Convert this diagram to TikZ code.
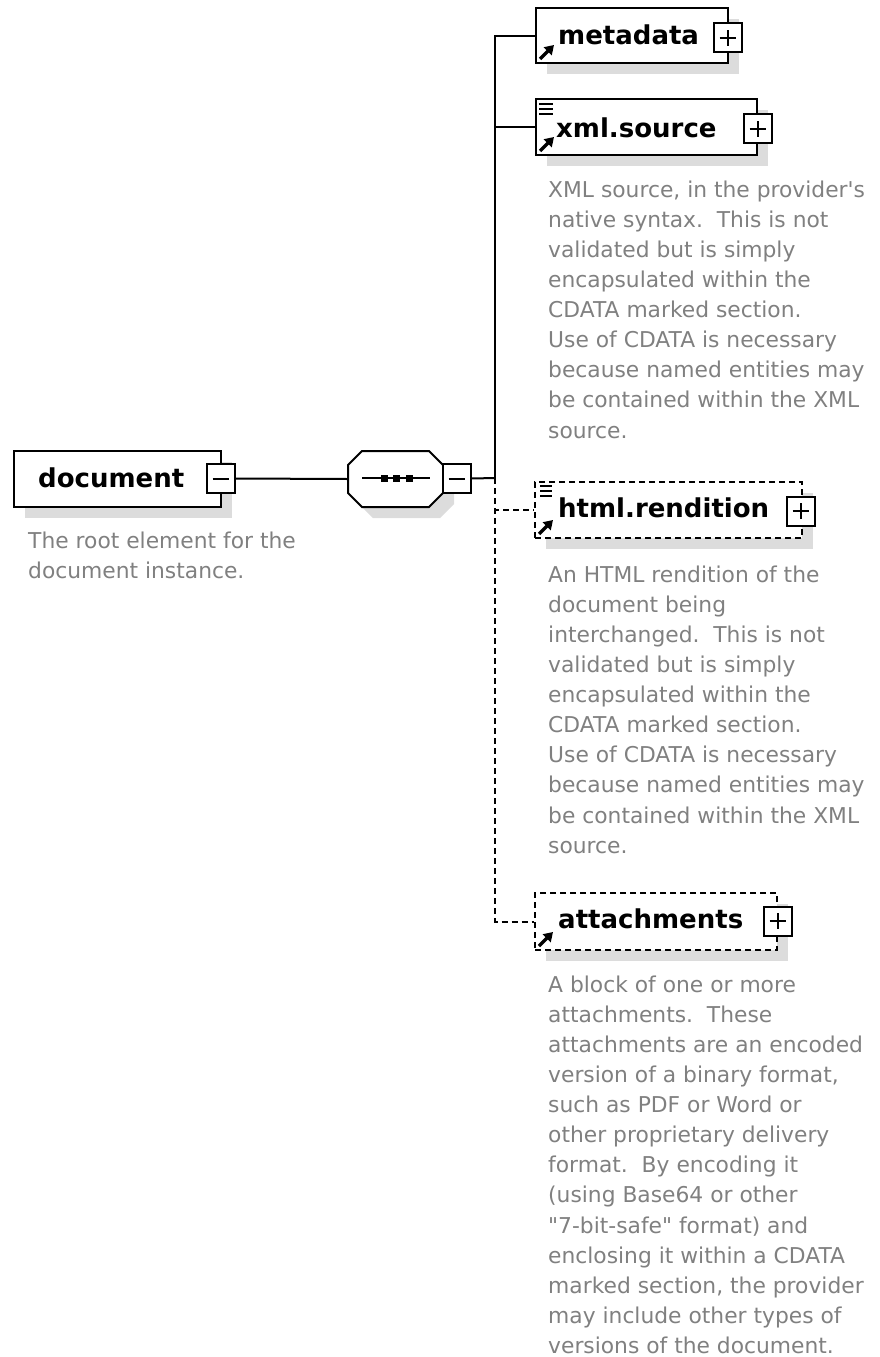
\documentclass[tikz,border=0pt]{standalone}
\usepackage{fontspec}
\setmainfont{DejaVu Sans}[Ligatures=TeXOff]
\usetikzlibrary{shadows,arrows.meta}
\definecolor{desccol}{HTML}{808080}
\definecolor{shadcol}{HTML}{DCDCDC}
\begin{document}
\begin{tikzpicture}[x=1pt,y=-1pt,
  shad/.style={drop shadow={shadow xshift=11pt,shadow yshift=-11pt,fill=shadcol,opacity=1}},
  elbox/.style={draw,line width=2pt,fill=white,inner sep=0pt,shad},
  optbox/.style={elbox,dash pattern=on 6pt off 4pt},
  pmbox/.style={draw,line width=2pt,fill=white,inner sep=0pt,minimum width=28pt,minimum height=29pt},
  title/.style={font=\fontsize{26}{30}\selectfont\bfseries,inner sep=0pt,anchor=base west},
  desc/.style={font=\fontsize{21.8}{30.1}\selectfont,text=desccol,align=left,inner sep=0pt,anchor=north west},
  conn/.style={line width=2pt},
  optconn/.style={line width=2pt,dash pattern=on 6pt off 4pt},
  refarrow/.style={line width=3.4pt,-{Triangle[length=9pt,width=11pt]}},
  lines/.style={line width=2.4pt}
]
\useasboundingbox (0,0) rectangle (880,1357);

% document element
\node[elbox,minimum width=207pt,minimum height=56pt] (doc) at (117.5,479) {};
\node[title] (doct) at (38,487) {document};
\node[pmbox] (docpm) at (220.5,478.5) {};
\draw[line width=2pt] ([xshift=-8pt]docpm.center) -- ([xshift=8pt]docpm.center);
\node[desc] (docd) at (28,548-21.07) {\strut The root element for the\\document instance.};

% sequence compositor
\node[inner sep=0pt,minimum width=95pt,minimum height=56pt] (seq) at (395.5,479) {};
\fill[shadcol] (359,476) -- (373,462) -- (440,462) -- (454,476) -- (454,504) -- (440,518) -- (373,518) -- (359,504) -- cycle;
\draw[line width=2pt,fill=white] (348,465) -- (362,451) -- (429,451) -- (443,465) -- (443,493) -- (429,507) -- (362,507) -- (348,493) -- cycle;
\draw[line width=2pt] (362,478) -- (430,478);
\foreach \dx in {384,396.5,409} \fill (\dx-3.5,474.5) rectangle (\dx+3.5,481.5);
\node[pmbox] (seqpm) at (456.5,478.5) {};
\draw[line width=2pt] ([xshift=-8pt]seqpm.center) -- ([xshift=8pt]seqpm.center);

\draw[conn] (docpm.east) -- (seq.west);
\coordinate (bus) at (495,478);
\draw[conn] (seqpm.east) -- (bus);

% metadata
\node[elbox,minimum width=192pt,minimum height=55pt] (meta) at (632,35.5) {};
\node[title] (metat) at (558,44) {metadata};
\node[pmbox] (metapm) at (727.5,37.5) {};
\draw[line width=2pt] ([xshift=-8pt]metapm.center) -- ([xshift=8pt]metapm.center)
  ([yshift=-8pt]metapm.center) -- ([yshift=8pt]metapm.center);
\draw[refarrow] ([xshift=5pt,yshift=5pt]meta.south west) -- ([xshift=19pt,yshift=19pt]meta.south west);

% xml.source
\node[elbox,minimum width=221pt,minimum height=56pt] (xml) at (646.5,127) {};
\node[title] (xmlt) at (556,137) {xml.source};
\node[pmbox] (xmlpm) at (757.5,128.5) {};
\draw[line width=2pt] ([xshift=-8pt]xmlpm.center) -- ([xshift=8pt]xmlpm.center)
  ([yshift=-8pt]xmlpm.center) -- ([yshift=8pt]xmlpm.center);
\draw[refarrow] ([xshift=5pt,yshift=5pt]xml.south west) -- ([xshift=19pt,yshift=19pt]xml.south west);
\draw[lines] ([xshift=4pt,yshift=-6pt]xml.north west) -- +(14pt,0)
  ([xshift=4pt,yshift=-11pt]xml.north west) -- +(14pt,0)
  ([xshift=4pt,yshift=-16pt]xml.north west) -- +(14pt,0);
\node[desc] (xmld) at (548,197-21.07) {\strut XML source, in the provider's\\native syntax.\ \ This is not\\validated but is simply\\encapsulated within the\\CDATA marked section.\\Use of CDATA is necessary\\because named entities may\\be contained within the XML\\source.};

% html.rendition
\node[optbox,minimum width=267pt,minimum height=56pt] (html) at (668.5,510) {};
\node[title] (htmlt) at (558,517) {html.rendition};
\node[pmbox] (htmlpm) at (800.5,511) {};
\draw[line width=2pt] ([xshift=-8pt]htmlpm.center) -- ([xshift=8pt]htmlpm.center)
  ([yshift=-8pt]htmlpm.center) -- ([yshift=8pt]htmlpm.center);
\draw[refarrow] ([xshift=5pt,yshift=5pt]html.south west) -- ([xshift=19pt,yshift=19pt]html.south west);
\draw[lines] ([xshift=6pt,yshift=-5pt]html.north west) -- +(12pt,0)
  ([xshift=6pt,yshift=-10pt]html.north west) -- +(12pt,0)
  ([xshift=6pt,yshift=-15pt]html.north west) -- +(12pt,0);
\node[desc] (htmld) at (548,582-21.07) {\strut An HTML rendition of the\\document being\\interchanged.\ \ This is not\\validated but is simply\\encapsulated within the\\CDATA marked section.\\Use of CDATA is necessary\\because named entities may\\be contained within the XML\\source.};

% attachments
\node[optbox,minimum width=242pt,minimum height=57pt] (att) at (656,921.5) {};
\node[title] (attt) at (558,928) {attachments};
\node[pmbox] (attpm) at (777.5,921) {};
\draw[line width=2pt] ([xshift=-8pt]attpm.center) -- ([xshift=8pt]attpm.center)
  ([yshift=-8pt]attpm.center) -- ([yshift=8pt]attpm.center);
\draw[refarrow] ([xshift=5pt,yshift=5pt]att.south west) -- ([xshift=19pt,yshift=19pt]att.south west);
\node[desc] (attd) at (548,992-21.07) {\strut A block of one or more\\attachments.\ \ These\\attachments are an encoded\\version of a binary format,\\such as PDF or Word or\\other proprietary delivery\\format.\ \ By encoding it\\(using Base64 or other\\"7-bit-safe" format) and\\enclosing it within a CDATA\\marked section, the provider\\may include other types of\\versions of the document.};

% connectors
\draw[conn] (bus) |- (meta.west);
\draw[conn] (bus) |- (xml.west);
\draw[optconn] (bus) |- (html.west);
\draw[optconn] (bus) |- (att.west);
\end{tikzpicture}
\end{document}
